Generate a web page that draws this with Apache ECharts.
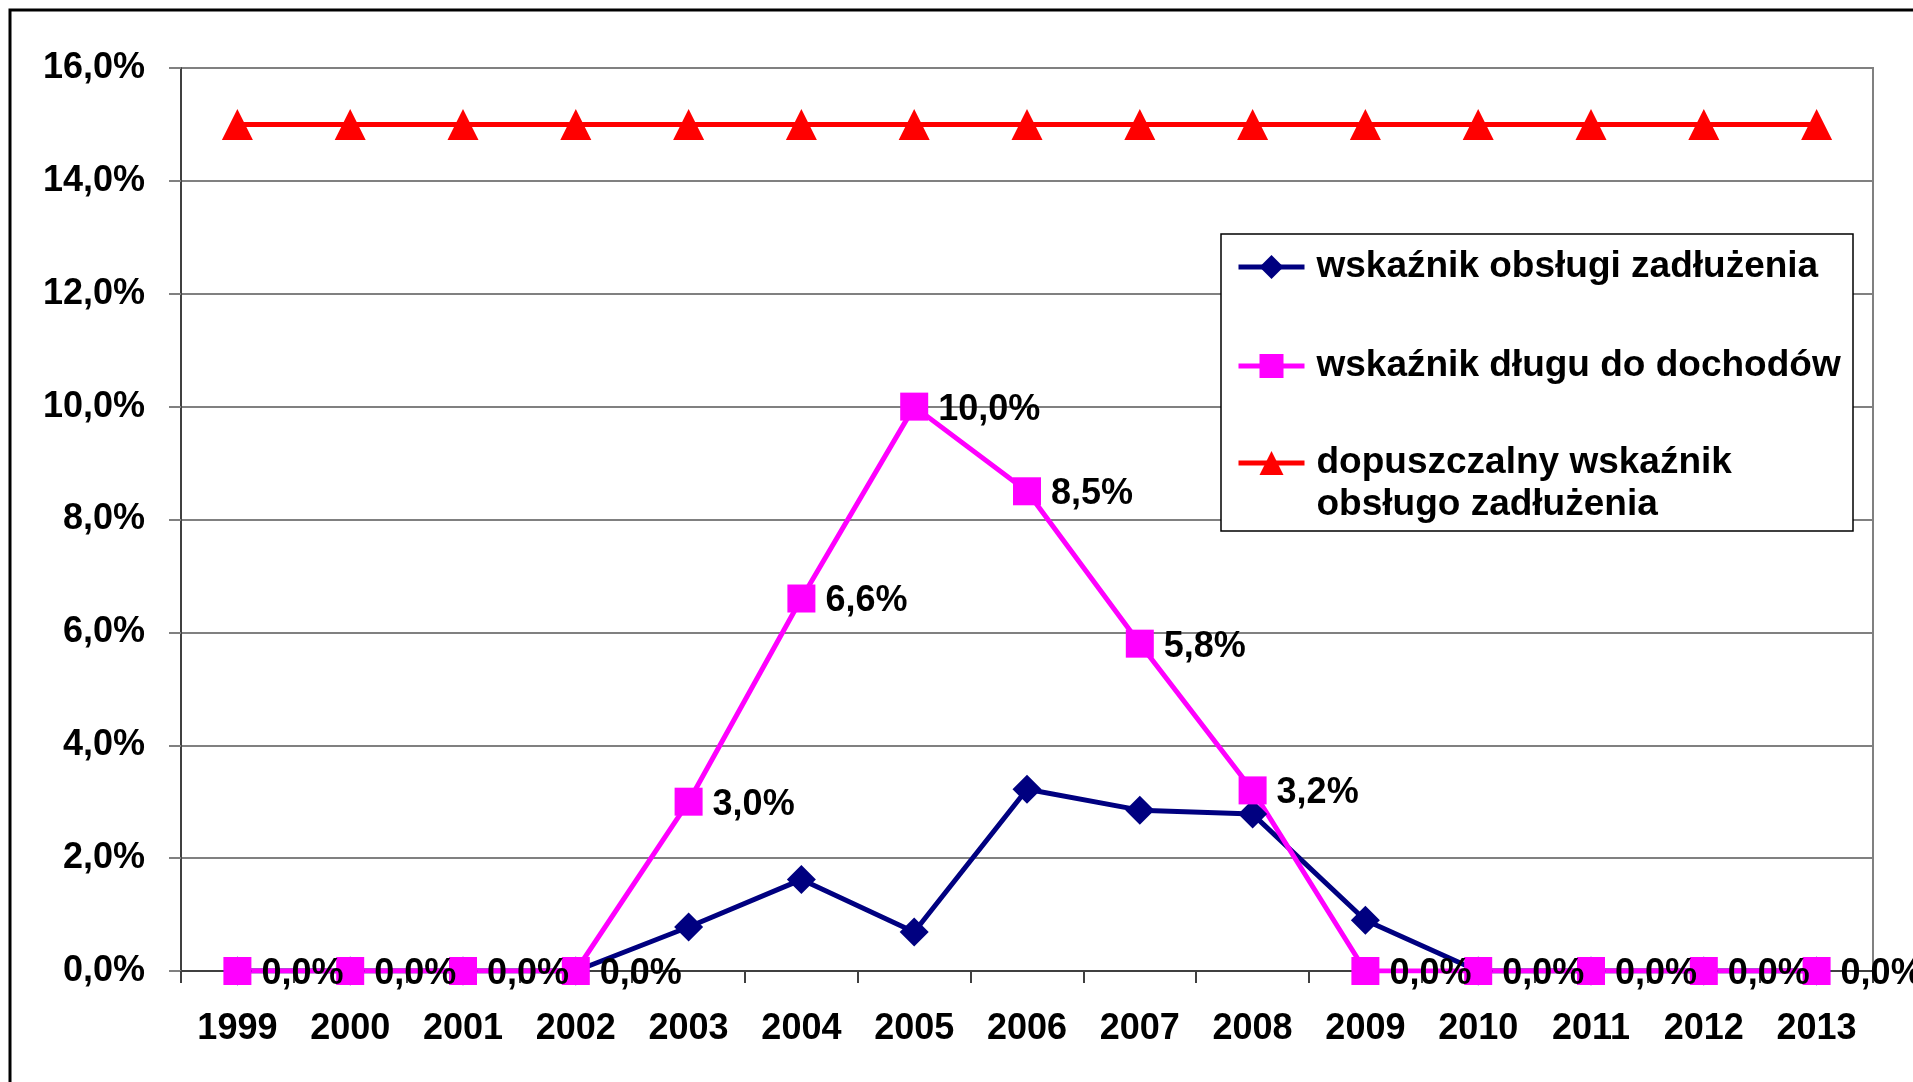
<!DOCTYPE html>
<html>
<head>
<meta charset="utf-8">
<script src="https://cdn.jsdelivr.net/npm/echarts@6/dist/echarts.min.js"></script>
<style>
  html, body { margin: 0; padding: 0; background: #fff; }
  #chart { width: 1913px; height: 1082px; }
</style>
</head>
<body>
<div id="chart"></div>
<script>
// dane
const years = ['1999', '2000', '2001', '2002', '2003', '2004', '2005', '2006', '2007', '2008', '2009', '2010', '2011', '2012', '2013'];
const debtService = [0, 0, 0, 0, 0.78, 1.62, 0.69, 3.22, 2.85, 2.78, 0.9, 0, 0, 0, 0];
const debtToIncome = [0, 0, 0, 0, 3.0, 6.6, 10.0, 8.5, 5.8, 3.2, 0, 0, 0, 0, 0];
const allowedLimit = [15, 15, 15, 15, 15, 15, 15, 15, 15, 15, 15, 15, 15, 15, 15];

const nameService = 'wskaźnik obsługi zadłużenia';
const nameIncome = 'wskaźnik długu do dochodów';
const nameLimit = 'dopuszczalny wskaźnik\nobsługo zadłużenia';

const font = 'Liberation Sans, Arial, sans-serif';
const pct = (v) => v.toFixed(1).replace('.', ',') + '%';

const chart = echarts.init(document.getElementById('chart'));

// wspólny styl legendy
function legendBox(name, top, formatter) {
  return {
    data: [name],
    left: 1236,
    top: top,
    orient: 'vertical',
    padding: 0,
    itemWidth: 66,
    itemHeight: 30,
    selectedMode: false,
    formatter: formatter,
    lineStyle: { width: 5 },
    textStyle: {
      fontFamily: font,
      fontWeight: 'bold',
      fontSize: 37,
      color: '#000',
      lineHeight: 42,
      padding: [0, 0, 0, 7]
    }
  };
}

const option = {
  animation: false,
  backgroundColor: '#fff',
  graphic: [
    {
      type: 'rect',
      shape: { x: 10, y: 10, width: 1920, height: 1090 },
      style: { fill: 'none', stroke: '#000', lineWidth: 3 },
      z: 10
    },
    {
      type: 'rect',
      shape: { x: 1221, y: 234, width: 632, height: 297 },
      style: { fill: '#fff', stroke: '#000', lineWidth: 1.5 },
      z: 3
    }
  ],
  legend: [
    legendBox(nameService, 246),
    legendBox(nameIncome, 345),
    // pusta pierwsza linia, żeby ikona stała przy pierwszym wierszu tekstu
    legendBox(nameLimit, 400, (n) => '\n' + n)
  ],
  grid: {
    left: 181,
    right: 40,
    top: 68,
    bottom: 111,
    show: true,
    borderColor: '#808080',
    borderWidth: 2
  },
  xAxis: {
    type: 'category',
    data: years,
    boundaryGap: true,
    axisLine: { lineStyle: { color: '#404040', width: 2 } },
    axisTick: { show: true, length: 12, lineStyle: { color: '#404040', width: 2 } },
    axisLabel: {
      margin: 40,
      fontFamily: font,
      fontWeight: 'bold',
      fontSize: 36,
      color: '#000'
    },
    splitLine: { show: false }
  },
  yAxis: {
    type: 'value',
    min: 0,
    max: 16,
    interval: 2,
    axisLine: { show: true, lineStyle: { color: '#404040', width: 2 } },
    axisTick: { show: true, length: 12, lineStyle: { color: '#808080', width: 2 } },
    axisLabel: {
      margin: 36,
      formatter: pct,
      fontFamily: font,
      fontWeight: 'bold',
      fontSize: 36,
      color: '#000',
      padding: [8, 0, 0, 0]
    },
    splitLine: { show: true, lineStyle: { color: '#808080', width: 2 } }
  },
  series: [
    {
      name: nameService,
      type: 'line',
      data: debtService,
      symbol: 'diamond',
      symbolSize: 29,
      lineStyle: { color: '#000080', width: 5 },
      itemStyle: { color: '#000080' }
    },
    {
      name: nameIncome,
      type: 'line',
      data: debtToIncome,
      symbol: 'rect',
      symbolSize: 28,
      lineStyle: { color: '#FF00FF', width: 5 },
      itemStyle: { color: '#FF00FF' },
      label: {
        show: true,
        position: 'right',
        distance: 10,
        offset: [0, 3],
        formatter: (p) => pct(p.value),
        fontFamily: font,
        fontWeight: 'bold',
        fontSize: 36,
        color: '#000'
      }
    },
    {
      name: nameLimit,
      type: 'line',
      data: allowedLimit,
      symbol: 'triangle',
      symbolSize: 31,
      lineStyle: { color: '#FF0000', width: 5 },
      itemStyle: { color: '#FF0000' }
    }
  ]
};

chart.setOption(option);
</script>
</body>
</html>
